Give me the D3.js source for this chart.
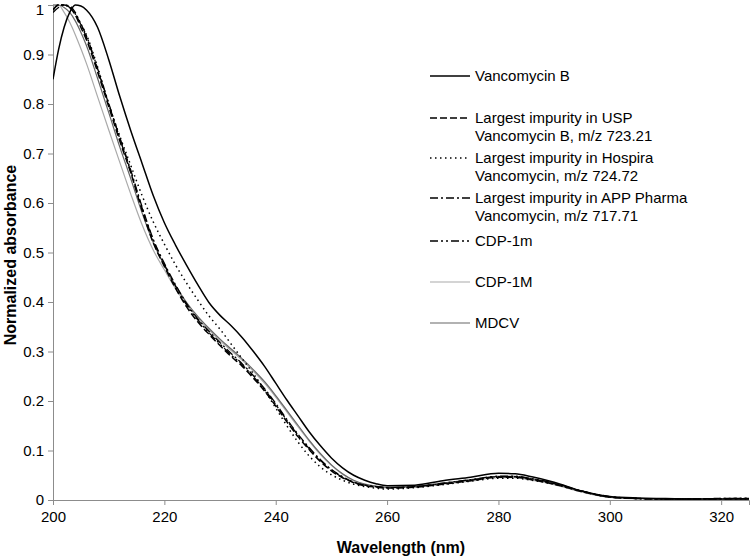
<!DOCTYPE html>
<html>
<head>
<meta charset="utf-8">
<script src="https://cdn.jsdelivr.net/npm/d3@7"></script>
<style>
  body { margin: 0; background: #fff; }
  svg { font-family: "Liberation Sans", Arial, sans-serif; }
</style>
</head>
<body>
<div id="container"></div>
<script>
// Data
const wavelengths = [200, 201, 202, 203, 204, 205, 206, 208, 210, 212, 214, 216, 218, 220, 222, 224, 226, 228, 230, 232, 234, 236, 238, 240, 242, 244, 246, 248, 250, 252, 254, 256, 258, 260, 265, 270, 275, 280, 283, 286, 290, 295, 300, 305, 310, 315, 320, 325];

const vancoB = [0.85, 0.91, 0.955, 0.985, 1.0, 0.998, 0.99, 0.955, 0.89, 0.815, 0.745, 0.68, 0.615, 0.56, 0.515, 0.474, 0.435, 0.399, 0.373, 0.352, 0.328, 0.3, 0.27, 0.236, 0.202, 0.17, 0.138, 0.11, 0.085, 0.065, 0.05, 0.04, 0.033, 0.029, 0.03, 0.039, 0.046, 0.054, 0.053, 0.047, 0.036, 0.018, 0.007, 0.004, 0.003, 0.002, 0.002, 0.002];
const uspImpurity = [0.99, 1.0, 1.0, 0.995, 0.98, 0.955, 0.93, 0.865, 0.795, 0.725, 0.66, 0.585, 0.52, 0.472, 0.428, 0.39, 0.36, 0.335, 0.312, 0.29, 0.27, 0.246, 0.22, 0.19, 0.158, 0.128, 0.102, 0.078, 0.059, 0.045, 0.035, 0.029, 0.026, 0.024, 0.026, 0.032, 0.039, 0.046, 0.046, 0.041, 0.032, 0.017, 0.006, 0.003, 0.002, 0.002, 0.003, 0.003];
const hospiraImpurity = [0.99, 1.0, 1.0, 0.995, 0.982, 0.962, 0.94, 0.875, 0.8, 0.735, 0.675, 0.615, 0.562, 0.517, 0.475, 0.438, 0.404, 0.372, 0.345, 0.315, 0.285, 0.255, 0.222, 0.186, 0.15, 0.117, 0.089, 0.067, 0.051, 0.04, 0.032, 0.027, 0.024, 0.022, 0.025, 0.031, 0.038, 0.044, 0.044, 0.04, 0.032, 0.017, 0.006, 0.003, 0.002, 0.002, 0.002, 0.002];
const appImpurity = [0.99, 1.0, 1.0, 0.995, 0.982, 0.96, 0.935, 0.87, 0.8, 0.732, 0.665, 0.592, 0.527, 0.478, 0.435, 0.397, 0.366, 0.341, 0.318, 0.296, 0.275, 0.251, 0.225, 0.195, 0.163, 0.133, 0.106, 0.082, 0.062, 0.047, 0.036, 0.03, 0.027, 0.025, 0.027, 0.033, 0.04, 0.047, 0.047, 0.042, 0.033, 0.018, 0.006, 0.003, 0.002, 0.002, 0.002, 0.003];
const cdp1m = [0.985, 0.995, 1.0, 0.998, 0.985, 0.962, 0.938, 0.872, 0.802, 0.73, 0.662, 0.59, 0.525, 0.476, 0.432, 0.394, 0.364, 0.338, 0.315, 0.293, 0.273, 0.249, 0.223, 0.193, 0.161, 0.131, 0.104, 0.08, 0.061, 0.046, 0.036, 0.03, 0.027, 0.025, 0.027, 0.034, 0.041, 0.048, 0.048, 0.043, 0.034, 0.018, 0.007, 0.003, 0.002, 0.002, 0.003, 0.004];
const cdp1M = [1.0, 1.0, 0.985, 0.965, 0.94, 0.912, 0.882, 0.815, 0.748, 0.682, 0.617, 0.556, 0.505, 0.465, 0.427, 0.395, 0.368, 0.344, 0.322, 0.302, 0.282, 0.26, 0.236, 0.208, 0.178, 0.148, 0.119, 0.092, 0.07, 0.052, 0.039, 0.031, 0.027, 0.025, 0.026, 0.032, 0.038, 0.045, 0.045, 0.04, 0.031, 0.016, 0.005, 0.002, 0.002, 0.001, 0.001, 0.001];
const mdcv = [1.0, 1.0, 0.995, 0.985, 0.968, 0.945, 0.918, 0.852, 0.783, 0.713, 0.648, 0.58, 0.52, 0.474, 0.433, 0.399, 0.371, 0.347, 0.325, 0.305, 0.285, 0.263, 0.239, 0.211, 0.181, 0.151, 0.121, 0.094, 0.071, 0.053, 0.04, 0.032, 0.028, 0.026, 0.028, 0.034, 0.041, 0.048, 0.048, 0.043, 0.034, 0.018, 0.006, 0.003, 0.002, 0.002, 0.002, 0.002];

const xTicks = [200, 220, 240, 260, 280, 300, 320];
const yTicks = [0, 0.1, 0.2, 0.3, 0.4, 0.5, 0.6, 0.7, 0.8, 0.9, 1];

// Series styles (legend order)
const series = [
  { name: ["Vancomycin B"], values: vancoB, color: "#000", width: 1.5, dash: null },
  { name: ["Largest impurity in USP", "Vancomycin B, m/z 723.21"], values: uspImpurity, color: "#000", width: 1.5, dash: "7,3" },
  { name: ["Largest impurity in Hospira", "Vancomycin, m/z 724.72"], values: hospiraImpurity, color: "#000", width: 1.5, dash: "1.5,3.5" },
  { name: ["Largest impurity in APP Pharma", "Vancomycin, m/z 717.71"], values: appImpurity, color: "#000", width: 1.3, dash: "8,3,2,3" },
  { name: ["CDP-1m"], values: cdp1m, color: "#000", width: 1.3, dash: "8,3,2,3,2,3" },
  { name: ["CDP-1M"], values: cdp1M, color: "#aaa", width: 1.2, dash: null },
  { name: ["MDCV"], values: mdcv, color: "#666", width: 1.2, dash: null },
];
const legendLineY = [76, 118, 158, 198, 241, 282, 323];

// Constants
const width = 750;
const height = 558;
const margin = { top: 5, right: 1, bottom: 58, left: 53 };

// Scales
const xScale = d3.scaleLinear().domain([200, 325]).range([margin.left, width - margin.right]);
const yScale = d3.scaleLinear().domain([0, 1]).range([height - margin.bottom, margin.top]);

const svg = d3
  .select("#container")
  .append("svg")
  .attr("width", width)
  .attr("height", height);

svg.append("defs")
  .append("clipPath")
  .attr("id", "plot-clip")
  .append("rect")
  .attr("x", margin.left)
  .attr("y", margin.top - 2)
  .attr("width", width - margin.left - margin.right)
  .attr("height", height - margin.top - margin.bottom + 2);

// Axes
const xAxis = d3.axisBottom(xScale).tickValues(xTicks).tickSize(5).tickPadding(6).tickFormat(d3.format("d"));
const yAxis = d3.axisLeft(yScale).tickValues(yTicks).tickSize(5).tickPadding(4).tickFormat((d) => String(d));

const gx = svg
  .append("g")
  .attr("transform", `translate(0,${height - margin.bottom})`)
  .call(xAxis);
const gy = svg
  .append("g")
  .attr("transform", `translate(${margin.left},0)`)
  .call(yAxis);

[gx, gy].forEach((g) => {
  g.select(".domain").attr("stroke", "#8c8c8c");
  g.selectAll(".tick line").attr("stroke", "#8c8c8c");
  g.selectAll(".tick text").attr("fill", "#000").style("font-size", "15px");
});
// top label sits right at the edge, nudge it in a bit
gy.selectAll(".tick text").filter((d) => d === 1).attr("dy", "0.62em");

// Axis titles
svg
  .append("text")
  .attr("x", 401)
  .attr("y", 553)
  .attr("text-anchor", "middle")
  .style("font-size", "16px")
  .style("font-weight", "bold")
  .text("Wavelength (nm)");

svg
  .append("text")
  .attr("transform", `translate(16,255) rotate(-90)`)
  .attr("text-anchor", "middle")
  .style("font-size", "16px")
  .style("font-weight", "bold")
  .text("Normalized absorbance");

// Lines
const line = d3
  .line()
  .x((d, i) => xScale(wavelengths[i]))
  .y((d) => yScale(d))
  .curve(d3.curveMonotoneX);

const plot = svg.append("g").attr("clip-path", "url(#plot-clip)");

// draw greys first, black on top
[5, 6, 4, 3, 1, 2, 0].forEach((k) => {
  const s = series[k];
  plot
    .append("path")
    .datum(s.values)
    .attr("fill", "none")
    .attr("stroke", s.color)
    .attr("stroke-width", s.width)
    .attr("stroke-dasharray", s.dash)
    .attr("d", line);
});

// Legend
const legend = svg.append("g").attr("id", "legend");

series.forEach((s, i) => {
  const y = legendLineY[i];
  legend
    .append("line")
    .attr("x1", 430)
    .attr("x2", 470)
    .attr("y1", y)
    .attr("y2", y)
    .attr("stroke", s.color)
    .attr("stroke-width", s.width)
    .attr("stroke-dasharray", s.dash);
  s.name.forEach((t, j) => {
    legend
      .append("text")
      .attr("x", 475)
      .attr("y", y + 5 + j * 18)
      .style("font-size", "15px")
      .text(t);
  });
});
</script>
</body>
</html>
